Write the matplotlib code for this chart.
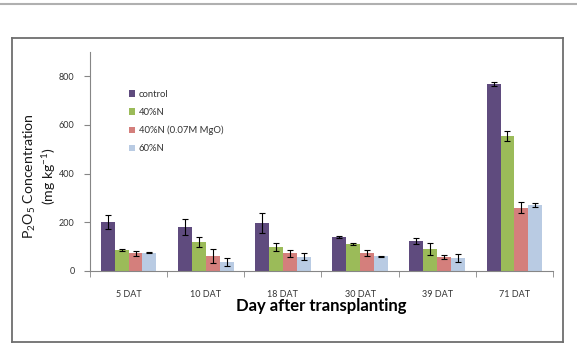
import numpy as np
import matplotlib
matplotlib.use("Agg")
from matplotlib import pyplot as plt
from matplotlib.lines import Line2D

plt.rcParams['font.family'] = ['Lato', 'DejaVu Sans']
plt.rcParams['mathtext.fontset'] = 'custom'
plt.rcParams['mathtext.rm'] = 'Lato'
plt.rcParams['mathtext.it'] = 'Lato'

# data
days = ['5 DAT', '10 DAT', '18 DAT', '30 DAT', '39 DAT', '71 DAT']
series = ['control', '40%N', '40%N (0.07M MgO)', '60%N']
control = [200, 179, 197, 140, 123, 768]
n40 = [86, 118, 99, 111, 89, 554]
n40_mgo = [72, 62, 73, 73, 57, 260]
n60 = [75, 38, 59, 60, 53, 270]
err_control = [28, 33, 41, 3, 11, 8]
err_n40 = [5, 20, 15, 5, 25, 22]
err_n40_mgo = [12, 30, 14, 13, 9, 23]
err_n60 = [3, 17, 14, 2, 16, 8]

values = [control, n40, n40_mgo, n60]
errors = [err_control, err_n40, err_n40_mgo, err_n60]
colors = ['#5f4b7e', '#9bbb59', '#d47f7c', '#b9cbe3']

W, H = 577, 351
fig = plt.figure(figsize=(W / 100, H / 100), dpi=100)

# page header rule
fig.add_artist(Line2D([0, 1], [1 - 4 / H, 1 - 4 / H], color='#b0b0b0', lw=1.5))

# chart frame: an empty axes whose spines make the border
bg = fig.add_axes([12 / W, 1 - 342 / H, (563 - 12) / W, (342 - 38) / H], zorder=-1)
bg.set_xticks([])
bg.set_yticks([])
for s in bg.spines.values():
    s.set_color('#6e6e6e')
    s.set_linewidth(1.3)

ax = fig.add_axes([90 / W, 1 - 271 / H, (553 - 90) / W, (271 - 51.7) / H])
ax.patch.set_alpha(0)

x = np.arange(len(days))
w = 0.18
for i, (vals, errs, c, name) in enumerate(zip(values, errors, colors, series)):
    ax.bar(x + (i - 1.5) * w, vals, w, color=c, label=name,
           yerr=errs, capsize=2, error_kw=dict(ecolor='black', elinewidth=0.8, capthick=0.8))

ax.set_xlim(-0.5, len(days) - 0.5)
ax.set_ylim(0, 900)
ax.set_yticks([0, 200, 400, 600, 800])
ax.set_xticks(x)
ax.set_xticklabels(days)
ax.set_xticks(np.arange(len(days) + 1) - 0.5, minor=True)
ax.tick_params(axis='x', which='major', length=0, pad=14, labelsize=6.5, labelcolor='#333333')
ax.tick_params(axis='x', which='minor', length=4, color='#868686')
ax.tick_params(axis='y', length=4, color='#868686', labelsize=6.5, labelcolor='#333333', pad=7)

for s in ['top', 'right']:
    ax.spines[s].set_visible(False)
for s in ['left', 'bottom']:
    ax.spines[s].set_color('#868686')

ax.set_xlabel('Day after transplanting', fontsize=12, fontweight='bold', labelpad=-1)
ax.text((40 - 90) / 463, (271 - 176) / 219.3, 'P$_2$O$_5$ Concentration\n(mg kg$^{-1}$)',
        transform=ax.transAxes, rotation=90, ha='center', va='center',
        multialignment='center', fontsize=10.2, linespacing=1.15, color='#1a1a1a')

ax.legend(loc='upper left', bbox_to_anchor=(0.065, 0.865), frameon=False, fontsize=6.8,
          handlelength=0.7, handleheight=0.7, handletextpad=0.4, labelspacing=0.95,
          labelcolor='#333333')

fig.savefig('out.png', dpi=100)
